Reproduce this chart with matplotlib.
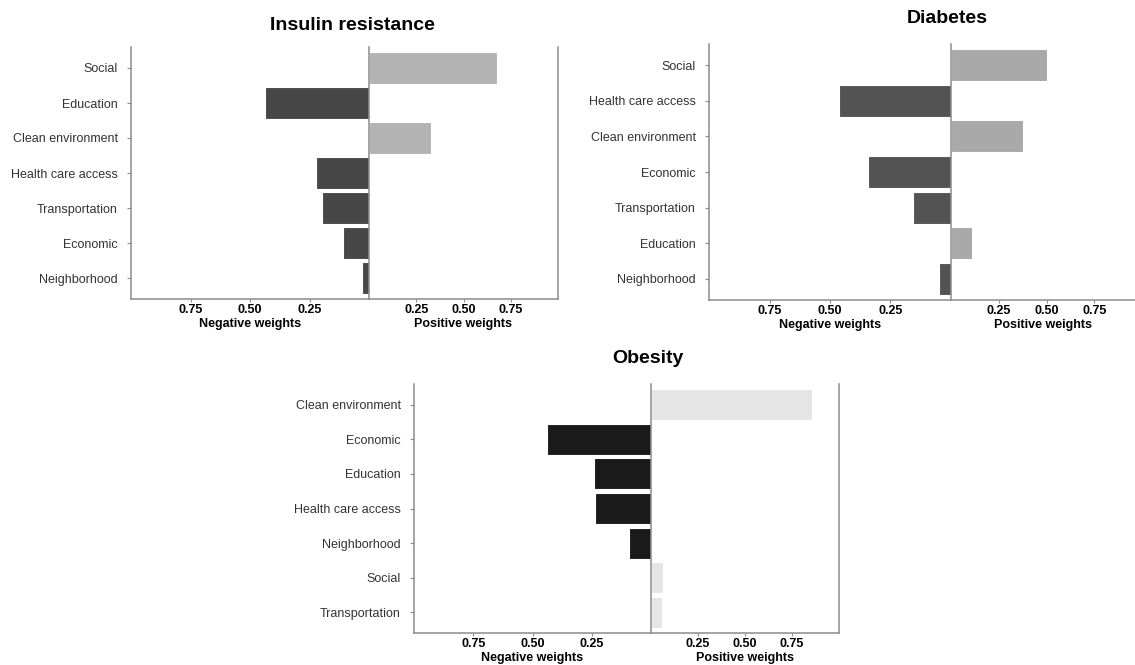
import matplotlib.pyplot as plt

plt.rcParams["font.family"] = ["Liberation Sans", "DejaVu Sans"]

W, H = 1135, 665

# data, top to bottom (negative = negative weight)
ir_cats = ["Social", "Education", "Clean environment", "Health care access",
           "Transportation", "Economic", "Neighborhood"]
ir_vals = [0.677, -0.436, 0.326, -0.222, -0.199, -0.109, -0.031]

dm_cats = ["Social", "Health care access", "Clean environment", "Economic",
           "Transportation", "Education", "Neighborhood"]
dm_vals = [0.504, -0.461, 0.378, -0.342, -0.156, 0.109, -0.050]

ob_cats = ["Clean environment", "Economic", "Education", "Health care access",
           "Neighborhood", "Social", "Transportation"]
ob_vals = [0.854, -0.439, -0.240, -0.235, -0.094, 0.066, 0.061]

ticks = [0.25, 0.50, 0.75]
tick_labels = ["0.25", "0.50", "0.75"]

SPINE = "#8c8c8c"


def px_rect(x0, x1, y0, y1):
    return [x0 / W, 1 - y1 / H, (x1 - x0) / W, (y1 - y0) / H]


def panel(fig, cats, vals, box, neg_color, pos_color, title, title_xy,
          right_max=1.0, right_spine=True):
    x0, xc, x1, y0, y1 = box
    ax_l = fig.add_axes(px_rect(x0, xc, y0, y1))
    ax_r = fig.add_axes(px_rect(xc, x1, y0, y1))
    pos = list(range(len(cats)))
    neg = [(p, -v) for p, v in zip(pos, vals) if v < 0]
    pst = [(p, v) for p, v in zip(pos, vals) if v > 0]
    ax_l.barh([p for p, _ in neg], [v for _, v in neg], height=0.9,
              color=neg_color, edgecolor="white", linewidth=0.8)
    ax_r.barh([p for p, _ in pst], [v for _, v in pst], height=0.9,
              color=pos_color, edgecolor="white", linewidth=0.8)
    ax_l.set_xlim(1.0, 0)
    ax_r.set_xlim(0, right_max)
    for ax in (ax_l, ax_r):
        ax.set_ylim(len(cats) - 0.4, -0.6)
        ax.set_xticks(ticks)
        ax.set_xticklabels(tick_labels, fontsize=9, fontweight="bold")
        ax.tick_params(axis="x", length=2, pad=1.5, color=SPINE)
        ax.spines["top"].set_visible(False)
        for s in ("left", "bottom", "right"):
            ax.spines[s].set_color(SPINE)
            ax.spines[s].set_linewidth(1.1)
    ax_l.spines["right"].set_visible(False)
    ax_r.spines["right"].set_visible(right_spine)
    ax_l.set_yticks(pos)
    ax_l.set_yticklabels(cats, fontsize=9, color="#333333")
    ax_l.tick_params(axis="y", length=3, pad=6.5, color=SPINE)
    ax_r.set_yticks([])
    ax_l.set_xlabel("Negative weights", fontsize=9, fontweight="bold",
                    labelpad=1.5)
    ax_r.set_xlabel("Positive weights", fontsize=9, fontweight="bold",
                    labelpad=1.5)
    fig.text(title_xy[0] / W, 1 - title_xy[1] / H, title, fontsize=14,
             fontweight="bold", ha="center", va="baseline")


fig = plt.figure(figsize=(W / 100, H / 100), dpi=100)
panel(fig, ir_cats, ir_vals, (131, 369, 558, 47, 299), "#474747", "#b3b3b3",
      "Insulin resistance", (352, 30))
panel(fig, dm_cats, dm_vals, (709, 951, 1135, 44, 300), "#535353", "#a9a9a9",
      "Diabetes", (947, 23), right_max=(1135 - 951) / 191, right_spine=False)
panel(fig, ob_cats, ob_vals, (414, 651, 839, 384, 633), "#1a1a1a", "#e5e5e5",
      "Obesity", (648, 363))
fig.savefig("out.png", dpi=100)
